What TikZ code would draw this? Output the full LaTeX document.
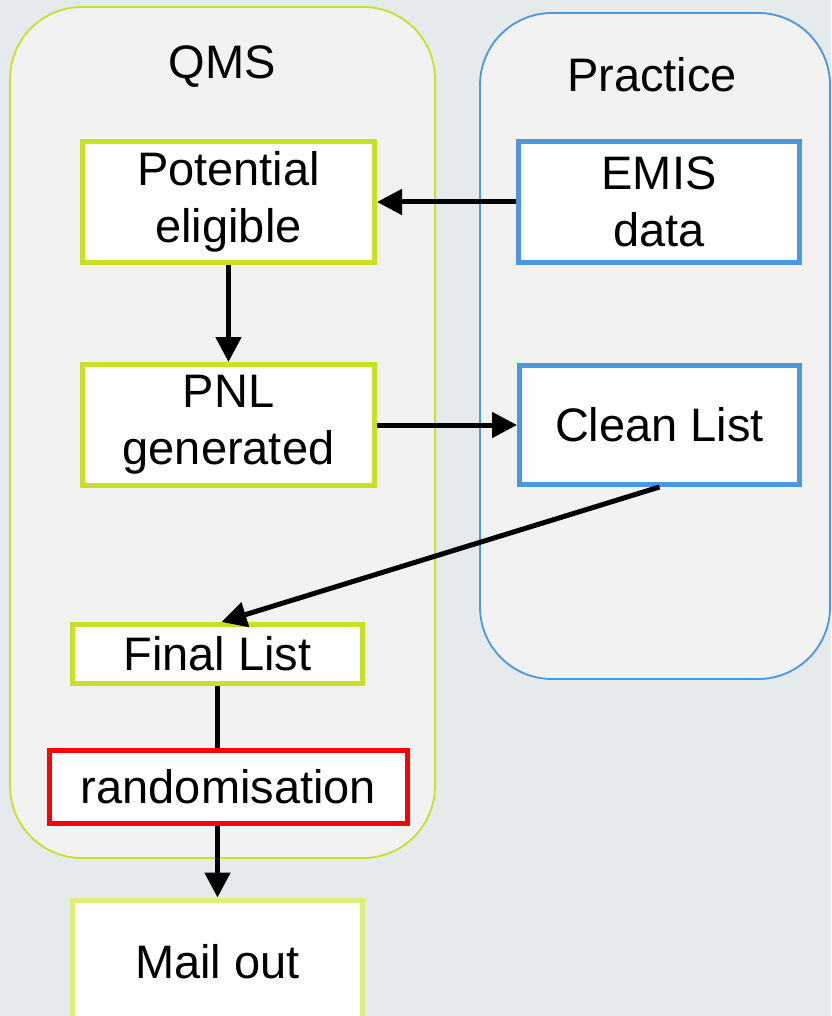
\documentclass[tikz,border=0pt]{standalone}
\usepackage{fontspec}
\setmainfont{Liberation Sans}
\usetikzlibrary{arrows.meta}
\definecolor{bgc}{RGB}{229,234,237}
\definecolor{lanec}{RGB}{242,242,242}
\definecolor{limec}{RGB}{200,224,40}
\definecolor{limel}{RGB}{222,237,128}
\definecolor{bluec}{RGB}{74,152,224}
\definecolor{redc}{RGB}{255,0,0}
\tikzset{>={Triangle[length=25pt,width=25pt]},
  box/.style={draw, line width=5pt, fill=white, align=center, inner sep=0pt},
  qbox/.style={box, draw=limec},
  pbox/.style={box, draw=bluec},
  flow/.style={line width=5pt}}

\begin{document}
\begin{tikzpicture}[x=1pt, y=-1pt, font=\fontsize{47}{57}\selectfont]
    \fill[bgc](0, 0)rectangle(831, 1016);
    \useasboundingbox(0, 0)rectangle(831, 1016);
    % lanes
    \draw[limec, line width=1.8pt, fill=lanec, rounded corners=72pt](10, 7)rectangle(435, 858);
    \draw[bluec, line width=1.8pt, fill=lanec, rounded corners=72pt](480, 13)rectangle(830, 679);
    \node (qms) at(222, 67){QMS};
    \node (prac) at(652, 75){Practice};
    % boxes
    \node[qbox, minimum width=292pt, minimum height=121pt] (pot) at(228.5, 202){Potential\\eligible};
    \node[pbox, minimum width=281pt, minimum height=121pt] (emis) at(659, 202){EMIS\\data};
    \node[qbox, minimum width=292pt, minimum height=121pt] (pnl) at(228.5, 425){PNL\\generated};
    \node[pbox, minimum width=280pt, minimum height=119pt] (clean) at(659.5, 425){Clean List};
    \node[qbox, minimum width=290pt, minimum height=59pt] (final) at(217.5, 654){Final List};
    \node[box, draw=redc, minimum width=358pt, minimum height=73pt] (rand) at(228.5, 787){randomisation};
    \node[box, draw=limel, minimum width=290pt, minimum height=124pt, anchor=north] (mail) at(217.5, 897.5){Mail out};
    % arrows
    \draw[flow, ->](emis.west)--(pot.east);
    \draw[flow, ->](pot.south)--(pnl.north);
    \draw[flow, ->](pnl.east)--(clean.west);
    \draw[flow, ->](clean.south)--([xshift=4pt]final.north);
    \draw[flow](final.south)--(final.south |- rand.north);
    \draw[flow, ->](mail.north |- rand.south)--(mail.north);
\end{tikzpicture}
\end{document}
